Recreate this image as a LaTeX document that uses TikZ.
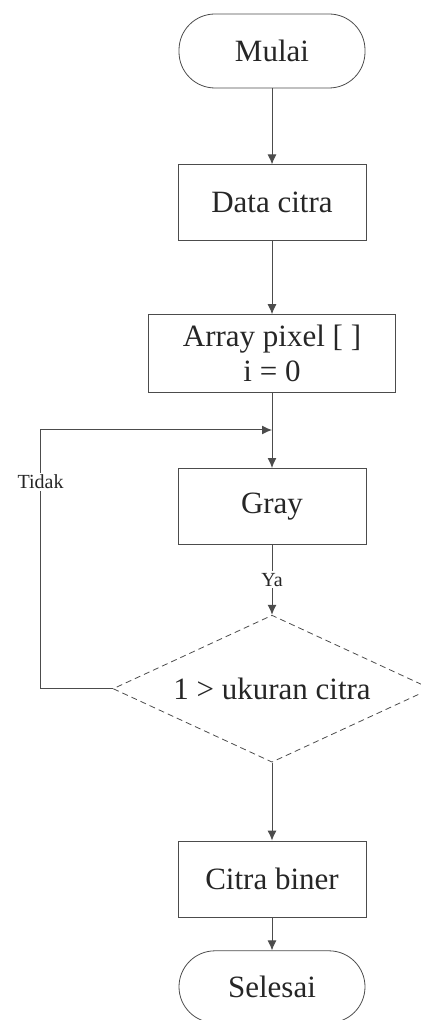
\documentclass[tikz,border=0pt]{standalone}
\usepackage{fontspec}
\setmainfont{Liberation Serif}
\usetikzlibrary{shapes.geometric, arrows.meta, positioning}

\begin{document}
\begin{tikzpicture}[node distance=37pt, >={Latex[length=5pt,width=4.5pt]}, font=\fontsize{15.5}{17.5}\selectfont,
    terminal/.style={draw=black!70, rectangle, rounded corners=18pt, minimum width=93pt, minimum height=37pt, text=black!85},
    process/.style={draw=black!70, rectangle, minimum width=94pt, minimum height=38pt, text=black!85},
    decision/.style={draw=black!70, densely dashed, diamond, aspect=2.16, minimum width=159pt, minimum height=73.5pt, inner sep=0pt, text=black!85},
    line/.style={draw=black!70, line width=0.5pt},
    lbl/.style={fill=white, inner sep=1pt, font=\fontsize{10}{12}\selectfont, text=black!85}]
        \useasboundingbox (0,0) rectangle (210pt,-510pt);

        \node [terminal] (mulai) at (136pt,-25.5pt) {Mulai};
        \node [process, below=38pt of mulai] (data) {Data citra};
        \node [process, below=36.5pt of data, minimum width=123.5pt, minimum height=39pt, align=center] (array) {Array pixel [ ]\\ i = 0};
        \coordinate [below=18.5pt of array] (junc);
        \node [process, below=37.5pt of array] (gray) {Gray};
        \node [decision, below=35pt of gray] (cek) {1 > ukuran citra};
        \node [process, below=39pt of cek] (biner) {Citra biner};
        \node [terminal, below=16.5pt of biner, minimum height=36pt] (selesai) {Selesai};

        \draw [line, ->] (mulai) -- (data);
        \draw [line, ->] (data) -- (array);
        \draw [line, ->] (array) -- (gray);
        \draw [line, ->] (gray) -- node[lbl] {Ya} (cek);
        \draw [line, ->] (cek) -- (biner);
        \draw [line, ->] (biner) -- (selesai);

        % kembali ke proses gray
        \draw [line, ->] (cek.west) -- ++(-36pt,0) |- node[lbl, pos=0.4] {Tidak} (junc);
    \end{tikzpicture}
\end{document}
